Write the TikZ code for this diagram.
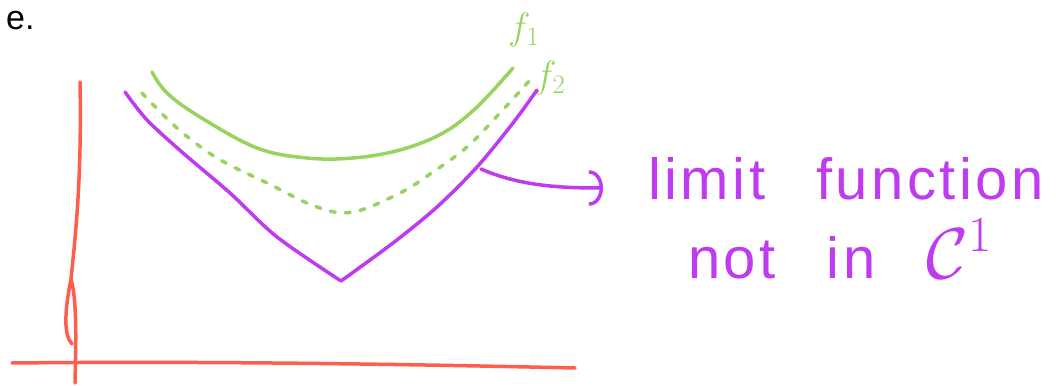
\RequirePackage{fix-cm}
\documentclass[tikz,border=0pt]{standalone}
\usepackage{amsmath}
\usepackage{fontspec}
\setmainfont{Liberation Sans}
\newfontfamily\handfont[LetterSpace=6, WordSpace=2.6]{Liberation Sans}
\usetikzlibrary{arrows.meta}
\definecolor{axisred}{HTML}{FF5E4D}
\definecolor{fgreen}{HTML}{96D35F}
\definecolor{limpurple}{HTML}{BF3BF0}

\begin{document}
\begin{tikzpicture}[x=1pt, y=-1pt, line cap=round, line join=round,
    stroke/.style={line width=3.5pt},
    handtext/.style={inner sep=0pt, anchor=base west},
    bigtext/.style={font=\handfont\fontsize{58}{60}\selectfont}]
  \useasboundingbox (0,0) rectangle (1056,385);

  \node[handtext, font=\fontsize{34}{34}\selectfont] (task) at (6,30) {e.};

  % axes
  \draw[stroke, axisred] (80,82) .. controls (82,180) and (75,240) .. (71,279)
    .. controls (64,315) and (64,335) .. (72,344);
  \draw[stroke, axisred] (71,279) .. controls (77,300) and (76,340) .. (75,383);
  \draw[stroke, axisred] (12,363) .. controls (200,361) and (400,364) .. (575,368);

  % f1 and f2
  \draw[stroke, fgreen] plot[smooth, tension=0.6] coordinates
    {(152,72) (167,93) (200,117) (257,148) (307,158) (353,158) (400,150) (443,133) (477,107) (513,68)};
  \draw[stroke, fgreen, dash pattern=on 5pt off 10pt] plot[smooth, tension=0.6] coordinates
    {(142,93) (177,128) (217,158) (267,183) (317,207) (353,212) (400,193) (433,172) (467,147) (500,113) (530,80)};
  \node[handtext, fgreen, font=\fontsize{38}{38}\selectfont] (fone) at (508,40) {$f_1$};
  \node[handtext, fgreen, font=\fontsize{38}{38}\selectfont] (ftwo) at (534,88) {$f_2$};

  % limit
  \draw[stroke, limpurple] plot[smooth, tension=0.5] coordinates
    {(125,92) (147,120) (183,153) (230,193) (277,237) (341,281)}
    -- plot[smooth, tension=0.5] coordinates
    {(341,281) (393,243) (437,207) (477,167) (513,123) (537,90)};
  \coordinate (touch) at (481,169);
  \coordinate (hook) at (603,188);

  \node[handtext, bigtext, limpurple] (limit) at (648,199) {limit function};
  \node[handtext, bigtext, limpurple] (notin) at (688,278)
    {not in {\fontsize{72}{72}\selectfont$\mathcal{C}^1$}};

  \draw[stroke, limpurple, -{Arc Barb[length=14pt, width=36pt]}]
    (touch) .. controls (520,186) and (560,188) .. (hook);
\end{tikzpicture}
\end{document}
